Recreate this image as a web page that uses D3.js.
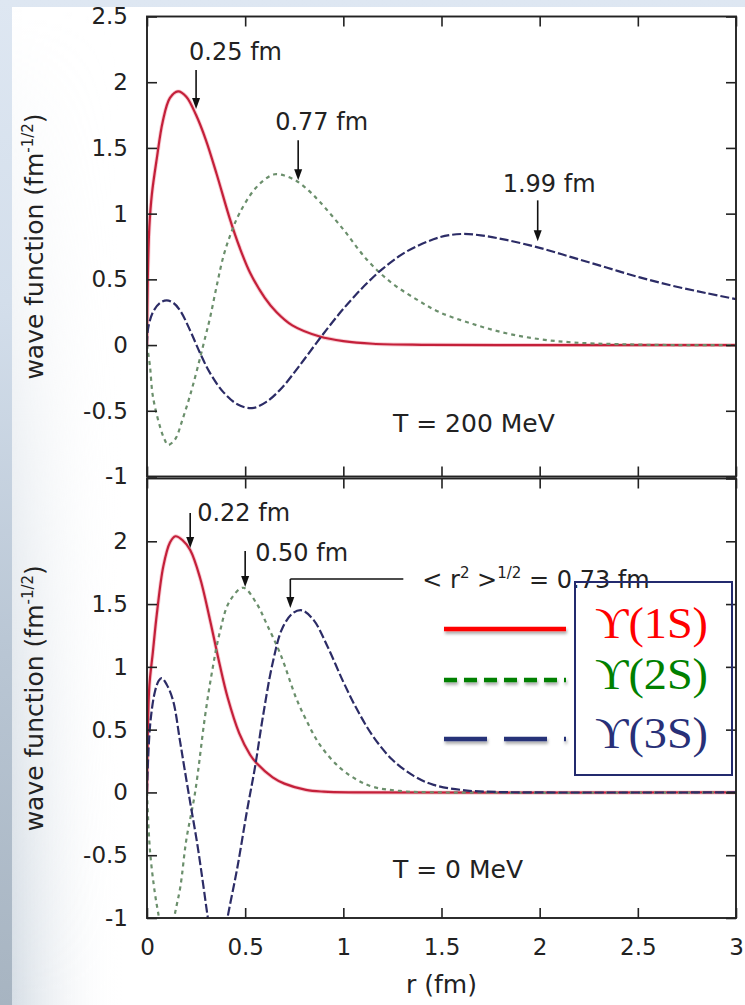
<!DOCTYPE html>
<html>
<head>
<meta charset="utf-8">
<title>Bottomonium radial wave functions</title>
<script src="https://cdn.jsdelivr.net/npm/d3@7"></script>
<style>
  html, body { margin: 0; padding: 0; background: #dce6f2; }
  svg { display: block; }
</style>
</head>
<body>
<svg id="chart" width="745" height="1005"></svg>
<script>
// ---- data -------------------------------------------------------------
const rTickValues = [0, 0.5, 1, 1.5, 2, 2.5, 3];
const psiTickValues = [-1, -0.5, 0, 0.5, 1, 1.5, 2, 2.5];

const stateNames = ["\u03D2(1S)", "\u03D2(2S)", "\u03D2(3S)"];
const temperatureLabels = ["T = 200 MeV", "T = 0 MeV"];

// radial wave functions [r (fm), psi (fm^-1/2)] at T = 200 MeV
const psi1S_T200 = [[0,0],[0.004,0.5],[0.012,0.9],[0.025,1.15],[0.05,1.42],[0.08,1.7],[0.117,1.88],[0.158,1.93],[0.2,1.89],[0.25,1.75],[0.3,1.56],[0.355,1.3],[0.42,0.97],[0.47,0.75],[0.525,0.55],[0.6,0.36],[0.66,0.25],[0.74,0.15],[0.88,0.065],[1.0,0.03],[1.15,0.01],[1.4,0.002],[1.8,0],[3,0]];
const psi2S_T200 = [[0,0],[0.015,-0.16],[0.03,-0.39],[0.066,-0.62],[0.09,-0.72],[0.107,-0.76],[0.13,-0.74],[0.15,-0.7],[0.18,-0.57],[0.21,-0.43],[0.235,-0.3],[0.27,-0.1],[0.3,0.08],[0.32,0.2],[0.355,0.45],[0.39,0.68],[0.43,0.86],[0.47,1.0],[0.54,1.17],[0.6,1.26],[0.65,1.3],[0.7,1.29],[0.76,1.25],[0.82,1.18],[0.88,1.09],[1.0,0.88],[1.12,0.65],[1.24,0.48],[1.37,0.35],[1.49,0.25],[1.66,0.16],[1.83,0.09],[2.0,0.045],[2.17,0.02],[2.4,0.007],[2.7,0],[3,0]];
const psi3S_T200 = [[0,0],[0.005,0.12],[0.03,0.25],[0.066,0.32],[0.1,0.34],[0.135,0.32],[0.17,0.26],[0.22,0.11],[0.27,-0.06],[0.32,-0.21],[0.39,-0.36],[0.46,-0.45],[0.535,-0.48],[0.61,-0.43],[0.69,-0.32],[0.78,-0.15],[0.88,0.05],[0.98,0.24],[1.05,0.36],[1.12,0.47],[1.2,0.58],[1.32,0.71],[1.49,0.82],[1.6,0.845],[1.7,0.835],[1.83,0.8],[2.0,0.74],[2.17,0.665],[2.34,0.59],[2.51,0.515],[2.68,0.45],[2.85,0.395],[3.0,0.35]];

// radial wave functions at T = 0
const psi1S_T0 = [[0,0],[0.004,0.45],[0.012,0.85],[0.03,1.12],[0.05,1.42],[0.083,1.8],[0.117,1.99],[0.145,2.04],[0.18,2.01],[0.22,1.93],[0.27,1.71],[0.32,1.38],[0.37,1.02],[0.41,0.76],[0.47,0.47],[0.525,0.3],[0.56,0.23],[0.64,0.12],[0.7,0.07],[0.81,0.02],[0.9,0.006],[1.05,0],[3,0]];
const psi2S_T0 = [[0,0],[0.015,-0.46],[0.04,-0.8],[0.057,-0.96],[0.075,-1.12],[0.1,-1.2],[0.125,-1.12],[0.143,-0.96],[0.17,-0.75],[0.2,-0.38],[0.245,0],[0.295,0.6],[0.33,0.95],[0.37,1.27],[0.42,1.52],[0.49,1.63],[0.56,1.5],[0.61,1.34],[0.68,1.1],[0.76,0.75],[0.81,0.58],[0.88,0.38],[0.98,0.2],[1.07,0.1],[1.15,0.045],[1.3,0.01],[1.5,0],[3,0]];
const psi3S_T0 = [[0,0],[0.008,0.35],[0.02,0.6],[0.04,0.8],[0.06,0.89],[0.075,0.91],[0.1,0.86],[0.133,0.73],[0.168,0.41],[0.19,0.2],[0.22,-0.08],[0.255,-0.4],[0.285,-0.72],[0.31,-1.0],[0.335,-1.25],[0.36,-1.35],[0.385,-1.25],[0.41,-1.0],[0.46,-0.6],[0.51,-0.14],[0.55,0.2],[0.59,0.6],[0.64,1.03],[0.69,1.31],[0.745,1.43],[0.79,1.45],[0.85,1.37],[0.92,1.16],[1.0,0.88],[1.07,0.66],[1.15,0.45],[1.25,0.26],[1.36,0.13],[1.46,0.06],[1.63,0.015],[1.8,0.003],[2.0,0],[3,0]];

// root-mean-square radii (fm)
const rmsRadiiT200 = [0.25, 0.77, 1.99];
const rmsRadiiT0 = [0.22, 0.50, 0.73];

// ---- drawing ----------------------------------------------------------
const svg = d3.select("#chart");
const FONT = "'DejaVu Sans', 'Liberation Sans', Arial, sans-serif";
const SERIF = "'Liberation Serif', 'DejaVu Serif', 'Times New Roman', serif";
const INK = "#222";
const stateColors = ["#c4203a", "#6b8f6c", "#2c2c66"];
const stateDash = [null, "4,4", "9,3"];
const legendColors = ["#ff0000", "#008000", "#283078"];

const defs = svg.append("defs");

// slide background
const bg = defs.append("linearGradient").attr("id", "bgGrad")
  .attr("x1", 0).attr("y1", 0).attr("x2", 0).attr("y2", 1);
bg.append("stop").attr("offset", "0%").attr("stop-color", "#dee7f2");
bg.append("stop").attr("offset", "30%").attr("stop-color", "#d3deeb");
bg.append("stop").attr("offset", "65%").attr("stop-color", "#b9c6d4");
bg.append("stop").attr("offset", "100%").attr("stop-color", "#a7b4c1");

const haze = defs.append("linearGradient").attr("id", "hazeGrad")
  .attr("x1", 0).attr("y1", 0).attr("x2", 1).attr("y2", 0);
haze.append("stop").attr("offset", "0%").attr("stop-color", "#b4c2d0").attr("stop-opacity", 0.55);
haze.append("stop").attr("offset", "100%").attr("stop-color", "#ffffff").attr("stop-opacity", 0);

const hazeMaskGrad = defs.append("linearGradient").attr("id", "hazeMaskGrad")
  .attr("x1", 0).attr("y1", 0).attr("x2", 0).attr("y2", 1);
hazeMaskGrad.append("stop").attr("offset", "0%").attr("stop-color", "#000");
hazeMaskGrad.append("stop").attr("offset", "35%").attr("stop-color", "#555");
hazeMaskGrad.append("stop").attr("offset", "100%").attr("stop-color", "#fff");
defs.append("mask").attr("id", "hazeMask")
  .attr("maskUnits", "userSpaceOnUse").attr("x", 0).attr("y", 0).attr("width", 745).attr("height", 1005)
  .append("rect").attr("x", 12).attr("y", 7).attr("width", 110).attr("height", 998)
  .attr("fill", "url(#hazeMaskGrad)");

// soft shadow under the legend samples (region in user space: lines have no height)
const shadow = defs.append("filter").attr("id", "lineShadow")
  .attr("filterUnits", "userSpaceOnUse")
  .attr("x", 420).attr("y", 590).attr("width", 170).attr("height", 180);
shadow.append("feDropShadow").attr("dx", 1).attr("dy", 2.5).attr("stdDeviation", 1.6)
  .attr("flood-color", "#000").attr("flood-opacity", 0.35);

svg.append("rect").attr("width", 745).attr("height", 1005).attr("fill", "url(#bgGrad)");
svg.append("rect").attr("x", 12).attr("y", 7).attr("width", 733).attr("height", 998).attr("fill", "#fff");
svg.append("rect").attr("x", 12).attr("y", 7).attr("width", 110).attr("height", 998)
  .attr("fill", "url(#hazeGrad)").attr("mask", "url(#hazeMask)");

// scales
const x = d3.scaleLinear().domain([0, 3]).range([147, 736]);
const panels = [
  { y: d3.scaleLinear().domain([-1, 2.5]).range([476.5, 16.5]),
    series: [psi1S_T200, psi2S_T200, psi3S_T200], radii: rmsRadiiT200,
    label: temperatureLabels[0], labelY: 432, yLabels: psiTickValues, xLabels: false },
  { y: d3.scaleLinear().domain([-1, 2.5]).range([918, 478.5]),
    series: [psi1S_T0, psi2S_T0, psi3S_T0], radii: rmsRadiiT0,
    label: temperatureLabels[1], labelY: 878, yLabels: psiTickValues.filter(v => v < 2.5), xLabels: true }
];

// annotation arrow layout: which state, gap above curve, arrow length, text offsets
const arrowLayouts = [
  [ { state: 0, gap: 6, len: 39, tx: -7, ty: -19 },
    { state: 1, gap: 2, len: 40, tx: -23, ty: -19 },
    { state: 2, gap: 6, len: 41, tx: -35, ty: -17 } ],
  [ { state: 0, gap: 2, len: 35, tx: 7, ty: -1 },
    { state: 1, gap: 3, len: 36, tx: 10, ty: 1 },
    { state: 2, gap: 9, len: 29, bracket: 113, tx: 132, ty: 0 } ]
];

function valueAt(series, r) {
  for (let i = 1; i < series.length; i++) {
    const a = series[i - 1], b = series[i];
    if (r <= b[0]) return a[1] + (b[1] - a[1]) * (r - a[0]) / (b[0] - a[0]);
  }
  return series[series.length - 1][1];
}

const fmt = d => String(d);

panels.forEach((p, pi) => {
  const [y0, y1] = p.y.range();
  const g = svg.append("g");
  const clipId = "clip" + pi;
  defs.append("clipPath").attr("id", clipId).append("rect")
    .attr("x", x(0)).attr("y", y1).attr("width", x(3) - x(0)).attr("height", y0 - y1);

  // curves
  const line = d3.line().x(d => x(d[0])).y(d => p.y(d[1])).curve(d3.curveCatmullRom.alpha(0.5));
  const curves = g.append("g").attr("clip-path", `url(#${clipId})`);
  p.series.forEach((s, si) => {
    if (si === 0) {
      curves.append("path").attr("d", line(s)).attr("fill", "none")
        .attr("stroke", "#f2a3ae").attr("stroke-width", 4).attr("stroke-opacity", 0.55);
    }
    curves.append("path").attr("d", line(s)).attr("fill", "none")
      .attr("stroke", stateColors[si]).attr("stroke-width", 2.2)
      .attr("stroke-dasharray", stateDash[si]);
  });

  // axes with inward ticks on all four sides
  const styleAxis = sel => {
    sel.select(".domain").remove();
    sel.selectAll(".tick line").attr("stroke", INK).attr("stroke-width", 1.6);
    sel.selectAll("text").attr("fill", INK).attr("font-family", FONT).attr("font-size", 23);
  };
  g.append("g").attr("transform", `translate(${x(0)},0)`)
    .call(d3.axisLeft(p.y).tickValues(p.yLabels).tickSize(-10).tickPadding(19).tickFormat(fmt))
    .call(styleAxis);
  g.append("g").attr("transform", `translate(${x(3)},0)`)
    .call(d3.axisRight(p.y).tickValues(psiTickValues).tickSize(-10).tickFormat(""))
    .call(styleAxis);
  g.append("g").attr("transform", `translate(0,${y1})`)
    .call(d3.axisTop(x).tickValues(rTickValues).tickSize(-10).tickFormat(""))
    .call(styleAxis);
  g.append("g").attr("transform", `translate(0,${y0})`)
    .call(d3.axisBottom(x).tickValues(rTickValues).tickSize(-10).tickPadding(21)
      .tickFormat(p.xLabels ? fmt : ""))
    .call(styleAxis);

  // frame
  g.append("rect").attr("x", x(0)).attr("y", y1).attr("width", x(3) - x(0)).attr("height", y0 - y1)
    .attr("fill", "none").attr("stroke", INK).attr("stroke-width", 1.9);

  // y-axis title
  const yt = g.append("text").attr("font-family", FONT).attr("font-size", 25).attr("fill", INK)
    .attr("text-anchor", "middle")
    .attr("transform", `translate(43,${(y0 + y1) / 2}) rotate(-90)`);
  yt.append("tspan").text("wave function (fm");
  yt.append("tspan").attr("font-size", 15).attr("dy", -10).text("-1/2");
  yt.append("tspan").attr("dy", 10).text(")");

  // temperature label
  g.append("text").attr("x", 393).attr("y", p.labelY).attr("font-family", FONT).attr("font-size", 25)
    .attr("fill", INK).text(p.label);

  // rms-radius arrows
  p.radii.forEach((r, k) => {
    const L = arrowLayouts[pi][k];
    const ax = x(r);
    const tip = p.y(valueAt(p.series[L.state], r)) - L.gap;
    const tail = tip - L.len;
    const a = g.append("g");
    a.append("line").attr("x1", ax).attr("x2", ax).attr("y1", tail).attr("y2", tip - 6)
      .attr("stroke", "#111").attr("stroke-width", 1.6);
    a.append("path").attr("d", `M${ax},${tip}L${ax - 4},${tip - 11}L${ax + 4},${tip - 11}Z`)
      .attr("fill", "#111");
    const label = d3.format(".2f")(r) + " fm";
    if (L.bracket) {
      a.append("line").attr("x1", ax).attr("x2", ax + L.bracket).attr("y1", tail).attr("y2", tail)
        .attr("stroke", "#111").attr("stroke-width", 1.6);
      const t = a.append("text").attr("x", ax + L.tx).attr("y", tail + L.ty).attr("dy", "0.36em")
        .attr("font-family", FONT).attr("font-size", 24).attr("fill", INK);
      t.append("tspan").text("< r");
      t.append("tspan").attr("font-size", 15).attr("dy", -10).text("2");
      t.append("tspan").attr("dy", 10).text(" >");
      t.append("tspan").attr("font-size", 15).attr("dy", -10).text("1/2");
      t.append("tspan").attr("dy", 10).text(" = " + label);
    } else {
      a.append("text").attr("x", ax + L.tx).attr("y", tail + L.ty).attr("dy", "0.36em")
        .attr("font-family", FONT).attr("font-size", 24).attr("fill", INK).text(label);
    }
  });
});

// ---- legend -----------------------------------------------------------
const legend = svg.append("g");
const legendRowY = [629, 680, 739];
const legendDash = [null, "13,7", "43,17"];
legend.append("rect").attr("x", 575).attr("y", 582).attr("width", 157).attr("height", 193)
  .attr("fill", "none").attr("stroke", "#232a6e").attr("stroke-width", 2);
stateNames.forEach((name, i) => {
  legend.append("line").attr("x1", 444).attr("x2", 566)
    .attr("y1", legendRowY[i]).attr("y2", legendRowY[i])
    .attr("stroke", legendColors[i]).attr("stroke-width", 4.5)
    .attr("stroke-dasharray", legendDash[i]).attr("filter", "url(#lineShadow)");
  legend.append("text").attr("x", 595).attr("y", legendRowY[i] - 6).attr("dy", "0.35em")
    .attr("font-family", SERIF).attr("font-size", 44).attr("fill", legendColors[i])
    .attr("textLength", 113).attr("lengthAdjust", "spacingAndGlyphs").text(name);
});

// x-axis title
svg.append("text").attr("x", (x(0) + x(3)) / 2).attr("y", 993).attr("text-anchor", "middle")
  .attr("font-family", FONT).attr("font-size", 25).attr("fill", INK).text("r (fm)");
</script>
</body>
</html>
